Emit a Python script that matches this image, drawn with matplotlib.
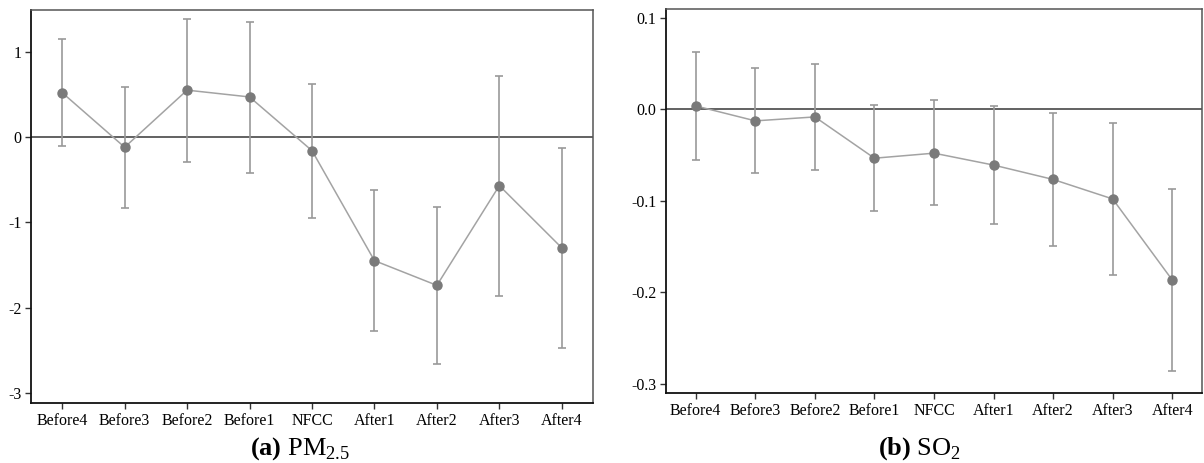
import numpy as np
import matplotlib
matplotlib.use('Agg')
import matplotlib.pyplot as plt

# Event-study coefficients with 95% CI
periods = ['Before4', 'Before3', 'Before2', 'Before1', 'NFCC',
           'After1', 'After2', 'After3', 'After4']

pm_coef = [0.52, -0.12, 0.55, 0.47, -0.16, -1.45, -1.74, -0.57, -1.30]
pm_upper = [1.15, 0.59, 1.38, 1.35, 0.62, -0.62, -0.82, 0.71, -0.13]
pm_lower = [-0.11, -0.83, -0.29, -0.42, -0.95, -2.28, -2.66, -1.86, -2.47]

so2_coef = [0.0036, -0.0127, -0.0084, -0.0535, -0.048, -0.061, -0.0767, -0.098, -0.1865]
so2_upper = [0.062, 0.0455, 0.0495, 0.0044, 0.0098, 0.003, -0.004, -0.015, -0.087]
so2_lower = [-0.055, -0.070, -0.066, -0.111, -0.105, -0.125, -0.149, -0.181, -0.286]

pm_ticks = [1, 0, -1, -2, -3]
so2_ticks = [0.1, 0.0, -0.1, -0.2, -0.3]

plt.rcParams['font.family'] = ['Liberation Serif', 'DejaVu Serif']
plt.rcParams['mathtext.fontset'] = 'custom'
plt.rcParams['mathtext.rm'] = 'Liberation Serif'
plt.rcParams['mathtext.bf'] = 'Liberation Serif:bold'

W, H = 1204, 463
fig = plt.figure(figsize=(W / 100, H / 100), dpi=100)


def px_axes(x0, x1, y0, y1):
    # pixel box (top-left origin) -> figure fraction
    return fig.add_axes([x0 / W, 1 - y1 / H, (x1 - x0) / W, (y1 - y0) / H])


def draw(ax, coef, lo, hi, ticks, fmt, ylim):
    x = np.arange(len(periods))
    coef = np.array(coef)
    err = [coef - np.array(lo), np.array(hi) - coef]
    ax.axhline(0, color='#555555', lw=1.3, zorder=1)
    ax.errorbar(x, coef, yerr=err, fmt='none', ecolor='#999999',
                elinewidth=1.2, capsize=3, capthick=1.2, zorder=2)
    ax.plot(x, coef, color='#a3a3a3', lw=1.1, zorder=3)
    ax.plot(x, coef, 'o', color='#7a7a7a', ms=6.5, zorder=4)
    ax.set_xlim(-0.5, 8.5)
    ax.set_ylim(*ylim)
    ax.set_xticks(x)
    ax.set_xticklabels(periods, fontsize=11.5)
    ax.set_yticks(ticks)
    ax.set_yticklabels([fmt.format(t).replace('\u2212', '-') for t in ticks], fontsize=11.5)
    ax.tick_params(length=4, width=1, color='#333333', pad=3)
    for s in ['left', 'bottom']:
        ax.spines[s].set_color('#111111')
        ax.spines[s].set_linewidth(1.3)
    for s in ['top', 'right']:
        ax.spines[s].set_color('#555555')
        ax.spines[s].set_linewidth(1.1)


ax1 = px_axes(31, 593, 10, 403)
draw(ax1, pm_coef, pm_lower, pm_upper, pm_ticks, '{:g}', (-3.12, 1.49))

ax2 = px_axes(666, 1202, 9, 393)
draw(ax2, so2_coef, so2_lower, so2_upper, so2_ticks, '{:.1f}', (-0.310, 0.1095))

fig.text(300 / W, 1 - 455 / H, r'$\mathbf{(a)}$ PM$_{2.5}$', ha='center',
         va='baseline', fontsize=19)
fig.text(919 / W, 1 - 455 / H, r'$\mathbf{(b)}$ SO$_{2}$', ha='center',
         va='baseline', fontsize=19)

fig.savefig('out.png', dpi=100)
